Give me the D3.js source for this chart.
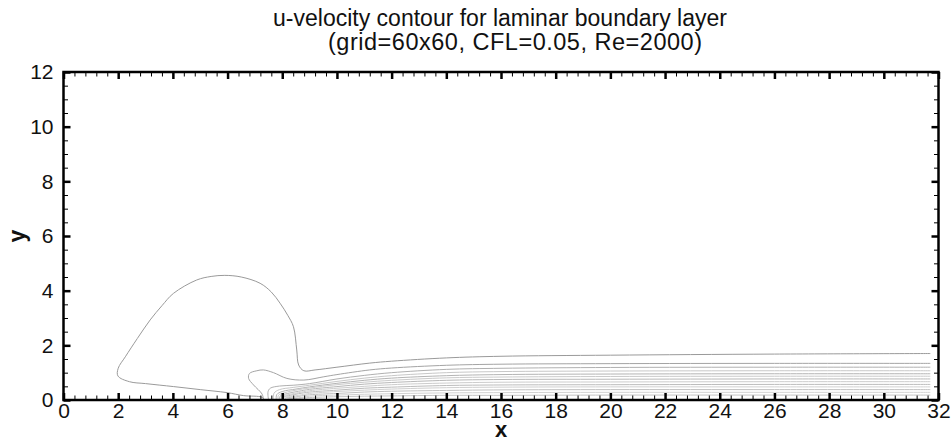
<!DOCTYPE html>
<html>
<head>
<meta charset="utf-8">
<script src="https://cdn.jsdelivr.net/npm/d3@7"></script>
<style>
  body { margin: 0; background: #fff; }
  text { font-family: "Liberation Sans", Arial, Helvetica, sans-serif; fill: #111; }
</style>
</head>
<body>
<div id="chart"></div>
<script>
// u-velocity contour lines (x, y pairs)

const titleLines = ['u-velocity contour for laminar boundary layer', '(grid=60x60, CFL=0.05, Re=2000)'];
const xTicks = [0, 2, 4, 6, 8, 10, 12, 14, 16, 18, 20, 22, 24, 26, 28, 30, 32];
const yTicks = [0, 2, 4, 6, 8, 10, 12];

// outer contour: bulb over the upstream part, then the edge of the layer
const outerContour = [
    [7.35, 0], [7.26, 0.1], [6.59, 0.16], [5.98, 0.27], [5, 0.38], [4.03, 0.49], [3, 0.6],
    [2.41, 0.67], [1.99, 0.88], [2.0, 1.16], [2.26, 1.58], [2.7, 2.25], [3.17, 2.93],
    [3.6, 3.45], [4.02, 3.9], [4.87, 4.39], [5.4, 4.52], [5.9, 4.56], [6.5, 4.5],
    [7.19, 4.27], [7.6, 3.95], [7.92, 3.54], [8.2, 3.1], [8.41, 2.68], [8.53, 1.83],
    [8.6, 1.28], [8.79, 1.07], [9.2, 1.1], [10, 1.2], [11.2, 1.35], [12, 1.42],
    [14, 1.54], [16, 1.6], [20, 1.64], [26, 1.68], [31.7, 1.7]
];

// second contour: small loop in front of the plate, then into the layer
const loopContour = [
    [7.32, 0], [7.26, 0.22], [6.95, 0.55], [6.77, 0.79], [6.8, 0.97], [7.07, 1.07],
    [7.31, 1.1], [7.68, 1.0], [8.17, 0.79], [8.79, 0.73], [9.52, 0.85], [10, 0.93],
    [11.2, 1.1], [12, 1.17], [14, 1.27], [16, 1.31], [20, 1.33], [26, 1.34], [31.7, 1.34]
];

// inner contours of the boundary layer, from the outside towards the wall
const layerContours = [
    [[7.5, 0], [7.48, 0.3], [7.56, 0.43], [7.9, 0.51], [8.4, 0.54], [9, 0.6], [10, 0.77], [11, 0.9], [12, 1.0], [14, 1.12], [16, 1.16], [20, 1.19], [26, 1.2], [31.7, 1.2]],
    [[7.68, 0], [7.7, 0.25], [7.9, 0.38], [8.4, 0.46], [9, 0.54], [10, 0.68], [11, 0.8], [12, 0.89], [14, 1.0], [16, 1.04], [20, 1.06], [26, 1.07], [31.7, 1.07]],
    [[7.78, 0], [7.8, 0.2], [8.0, 0.31], [8.5, 0.4], [9, 0.48], [10, 0.61], [11, 0.72], [12, 0.8], [14, 0.89], [16, 0.93], [20, 0.95], [26, 0.96], [31.7, 0.96]],
    [[7.85, 0], [7.86, 0.17], [8.1, 0.27], [8.5, 0.36], [9, 0.44], [10, 0.56], [11, 0.65], [12, 0.72], [14, 0.81], [16, 0.84], [20, 0.86], [26, 0.87], [31.7, 0.87]],
    [[7.9, 0], [7.92, 0.14], [8.2, 0.24], [8.6, 0.32], [9, 0.39], [10, 0.49], [11, 0.58], [12, 0.64], [14, 0.72], [16, 0.75], [20, 0.76], [26, 0.77], [31.7, 0.77]],
    [[7.95, 0], [7.97, 0.12], [8.3, 0.21], [8.6, 0.27], [9, 0.34], [10, 0.43], [11, 0.5], [12, 0.56], [14, 0.62], [16, 0.65], [20, 0.66], [26, 0.67], [31.7, 0.67]],
    [[8.0, 0], [8.02, 0.1], [8.3, 0.17], [8.6, 0.23], [9, 0.29], [10, 0.36], [11, 0.43], [12, 0.47], [14, 0.53], [16, 0.55], [20, 0.56], [26, 0.57], [31.7, 0.57]],
    [[8.05, 0], [8.07, 0.08], [8.4, 0.14], [8.7, 0.19], [9, 0.24], [10, 0.31], [11, 0.36], [12, 0.4], [14, 0.45], [16, 0.47], [20, 0.48], [26, 0.48], [31.7, 0.48]],
    [[8.1, 0], [8.12, 0.06], [8.5, 0.11], [8.7, 0.15], [9, 0.19], [10, 0.24], [11, 0.29], [12, 0.32], [14, 0.35], [16, 0.37], [20, 0.38], [26, 0.38], [31.7, 0.38]],
    [[8.15, 0], [8.17, 0.04], [8.6, 0.08], [9, 0.14], [10, 0.18], [11, 0.21], [12, 0.23], [14, 0.26], [16, 0.27], [20, 0.28], [26, 0.28], [31.7, 0.28]],
    [[8.2, 0], [8.22, 0.03], [8.6, 0.06], [9, 0.09], [10, 0.12], [11, 0.14], [12, 0.15], [14, 0.17], [16, 0.17], [20, 0.18], [26, 0.18], [31.7, 0.18]]
];

// Layout
const W = 952, H = 441;
const plot = { left: 63.5, right: 938.5, top: 72, bottom: 400 };

const svg = d3.select('#chart')
    .append('svg')
    .attr('width', W)
    .attr('height', H);

const x = d3.scaleLinear().domain([0, 32]).range([plot.left, plot.right]);
const y = d3.scaleLinear().domain([0, 12]).range([plot.bottom, plot.top]);

// Title
svg.append('text')
    .attr('x', 500)
    .attr('y', 26)
    .attr('text-anchor', 'middle')
    .style('font-size', '23px')
    .text(titleLines[0]);

svg.append('text')
    .attr('x', 515)
    .attr('y', 50)
    .attr('text-anchor', 'middle')
    .attr('textLength', 374)
    .attr('lengthAdjust', 'spacing')
    .style('font-size', '23.5px')
    .text(titleLines[1]);

// Contours
svg.append('clipPath')
    .attr('id', 'plot-clip')
    .append('rect')
    .attr('x', plot.left)
    .attr('y', plot.top)
    .attr('width', plot.right - plot.left)
    .attr('height', plot.bottom - plot.top);

const line = d3.line()
    .x(d => x(d[0]))
    .y(d => y(d[1]))
    .curve(d3.curveCatmullRom.alpha(0.5));

const contourG = svg.append('g').attr('clip-path', 'url(#plot-clip)');

contourG.append('path')
    .datum(outerContour)
    .attr('d', line)
    .attr('fill', 'none')
    .attr('stroke', '#9a9a9a')
    .attr('stroke-width', 1);

contourG.append('path')
    .datum(loopContour)
    .attr('d', line)
    .attr('fill', 'none')
    .attr('stroke', '#a4a4a4')
    .attr('stroke-width', 1);

const layerShades = ['#b0b0b0', '#c8c8c8', '#b4b4b4', '#cbcbcb', '#b8b8b8', '#cdcdcd',
                     '#bcbcbc', '#d0d0d0', '#c0c0c0', '#d2d2d2', '#c4c4c4'];

contourG.selectAll('.layer')
    .data(layerContours)
    .enter()
    .append('path')
    .attr('class', 'layer')
    .attr('d', line)
    .attr('fill', 'none')
    .attr('stroke', (d, i) => layerShades[i])
    .attr('stroke-width', 1);

// Axes: ticks point inwards on all four sides
const xMinor = d3.range(0, 32.001, 0.4).filter(v => Math.abs(v / 2 - Math.round(v / 2)) > 1e-6);
const yMinor = d3.range(0, 12.001, 0.5).filter(v => v % 2 !== 0);

function drawTicks(axis, values, size, width, transform, labels) {
    const g = svg.append('g')
        .attr('transform', transform)
        .call(axis.tickValues(values).tickSize(-size).tickSizeOuter(0)
            .tickFormat(labels ? d3.format('d') : ''));
    g.select('.domain').remove();
    g.selectAll('.tick line').attr('stroke', '#000').attr('stroke-width', width);
    return g;
}

const xb = drawTicks(d3.axisBottom(x), xTicks, 7, 2.5, `translate(0,${plot.bottom})`, true);
xb.selectAll('.tick text').style('font-size', '21px').attr('fill', '#111').attr('y', 3).attr('dy', '0.71em');
drawTicks(d3.axisBottom(x), xMinor, 4.5, 1, `translate(0,${plot.bottom})`, false);
drawTicks(d3.axisTop(x), xTicks, 7, 2.5, `translate(0,${plot.top})`, false);
drawTicks(d3.axisTop(x), xMinor, 4.5, 1, `translate(0,${plot.top})`, false);

const yl = drawTicks(d3.axisLeft(y), yTicks, 7, 2.5, `translate(${plot.left},0)`, true);
yl.selectAll('.tick text').style('font-size', '21px').attr('fill', '#111').attr('x', -10);
drawTicks(d3.axisLeft(y), yMinor, 4.5, 1, `translate(${plot.left},0)`, false);
drawTicks(d3.axisRight(y), yTicks, 7, 2.5, `translate(${plot.right},0)`, false);
drawTicks(d3.axisRight(y), yMinor, 4.5, 1, `translate(${plot.right},0)`, false);

// Frame
svg.append('rect')
    .attr('x', plot.left)
    .attr('y', plot.top)
    .attr('width', plot.right - plot.left)
    .attr('height', plot.bottom - plot.top)
    .attr('fill', 'none')
    .attr('stroke', '#000')
    .attr('stroke-width', 2.5);

// Axis titles
svg.append('text')
    .attr('x', x(16))
    .attr('y', 437)
    .attr('text-anchor', 'middle')
    .style('font-size', '22px')
    .style('font-weight', 'bold')
    .text('x');

svg.append('text')
    .attr('transform', `translate(25, ${y(6)}) rotate(-90)`)
    .attr('text-anchor', 'middle')
    .style('font-size', '23px')
    .style('font-weight', 'bold')
    .text('y');
</script>
</body>
</html>
